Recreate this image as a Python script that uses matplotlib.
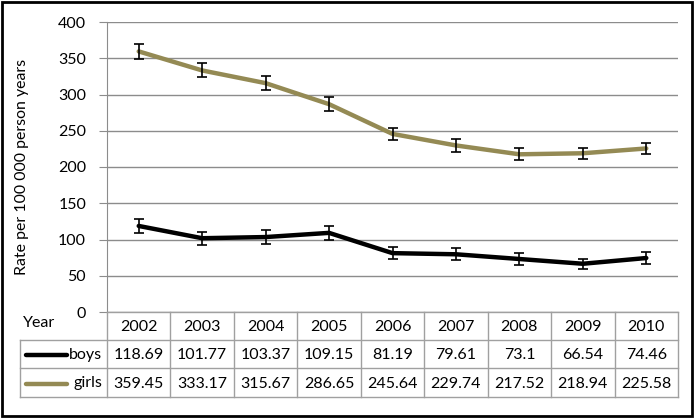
#! /usr/bin/env python3
# Rate per 100 000 person years, boys vs girls, 2002-2010, with data table underneath.

import matplotlib
matplotlib.use("Agg")
import matplotlib.pyplot as plt
from matplotlib.lines import Line2D
from matplotlib.patches import Rectangle

#########################################################
# Data
#########################################################
years = ["2002", "2003", "2004", "2005", "2006", "2007", "2008", "2009", "2010"]
boys = [118.69, 101.77, 103.37, 109.15, 81.19, 79.61, 73.1, 66.54, 74.46]
girls = [359.45, 333.17, 315.67, 286.65, 245.64, 229.74, 217.52, 218.94, 225.58]
# half-widths of the error bars
boys_err = [10, 9.2, 9.2, 9.4, 7.8, 8, 7.8, 7, 8]
girls_err = [10, 9.7, 9.7, 9.7, 8.5, 8.5, 8, 7.6, 8]
series_names = ["boys", "girls"]
y_ticks = [0, 50, 100, 150, 200, 250, 300, 350, 400]

BOYS_COL = "black"
GIRLS_COL = "#948a54"
GRID_COL = "#8c8c8c"
TABLE_COL = "#a0a0a0"

W, H = 700, 420
plt.rcParams['font.family'] = ['Lato', 'DejaVu Sans']
plt.rcParams['font.size'] = 11


def fx(px):
    return px / W


def fy(py):
    # pixel y measured from the top
    return 1 - py / H


fig = plt.figure(figsize=(7, 4.2), dpi=100)

# plot area in pixels
L, R, T, B = 107, 678, 22, 312
ax = fig.add_axes([fx(L), fy(B), fx(R - L), (B - T) / H])

x = list(range(len(years)))
ax.plot(x, boys, color=BOYS_COL, lw=3.2, solid_capstyle='round', zorder=3)
ax.plot(x, girls, color=GIRLS_COL, lw=3.2, solid_capstyle='round', zorder=3)
ax.errorbar(x, boys, yerr=boys_err, fmt='none', ecolor='black',
            elinewidth=1.2, capsize=3.5, capthick=1.2, zorder=4)
ax.errorbar(x, girls, yerr=girls_err, fmt='none', ecolor='black',
            elinewidth=1.2, capsize=3.5, capthick=1.2, zorder=4)

ax.set_xlim(-0.5, len(years) - 0.5)
ax.set_ylim(0, 400)
ax.set_yticks(y_ticks)
ax.set_xticks([])
ax.grid(axis='y', color=GRID_COL, lw=1)
ax.set_axisbelow(True)
for s in ['top', 'right', 'bottom']:
    ax.spines[s].set_visible(False)
ax.spines['left'].set_color(GRID_COL)
ax.tick_params(axis='y', length=6, color=GRID_COL, labelsize=11.5, pad=9)

fig.text(fx(22), fy(167), "Rate per 100 000 person years",
         rotation=90, ha='center', va='center', fontsize=11.4)

#########################################################
# Data table
#########################################################
rows = [312, 340, 368, 397]
col_w = (R - L) / len(years)
tl = 20

lines = []
# horizontal lines
lines.append(Line2D([fx(L), fx(R)], [fy(rows[0])] * 2))
for r in rows[1:]:
    lines.append(Line2D([fx(tl), fx(R)], [fy(r)] * 2))
# vertical lines
for i in range(len(years) + 1):
    xx = L + i * col_w
    lines.append(Line2D([fx(xx)] * 2, [fy(rows[0]), fy(rows[-1])]))
lines.append(Line2D([fx(tl)] * 2, [fy(rows[1]), fy(rows[-1])]))
for ln in lines:
    ln.set_color(TABLE_COL)
    ln.set_linewidth(1)
    fig.add_artist(ln)

fig.text(fx(23), fy(323), "Year", ha='left', va='center', fontsize=11.5)
for i, yr in enumerate(years):
    fig.text(fx(L + (i + 0.5) * col_w), fy((rows[0] + rows[1]) / 2 + 1), yr,
             ha='center', va='center', fontsize=11.5)

for k, (name, vals, col) in enumerate(zip(series_names, [boys, girls],
                                          [BOYS_COL, GIRLS_COL])):
    yc = (rows[k + 1] + rows[k + 2]) / 2
    key = Line2D([fx(26), fx(67)], [fy(yc + 1)] * 2, color=col, lw=3.2,
                 solid_capstyle='round')
    fig.add_artist(key)
    fig.text(fx(102), fy(yc + 1), name, ha='right', va='center', fontsize=11.5)
    for i, v in enumerate(vals):
        fig.text(fx(L + (i + 0.5) * col_w), fy(yc + 1), "{:g}".format(v),
                 ha='center', va='center', fontsize=11.5)

# outer frame
fig.add_artist(Rectangle((fx(2), fy(416)), fx(690), (416 - 2) / H,
                         fill=False, edgecolor='black', lw=2,
                         transform=fig.transFigure))

plt.savefig("out.png", dpi=100)
